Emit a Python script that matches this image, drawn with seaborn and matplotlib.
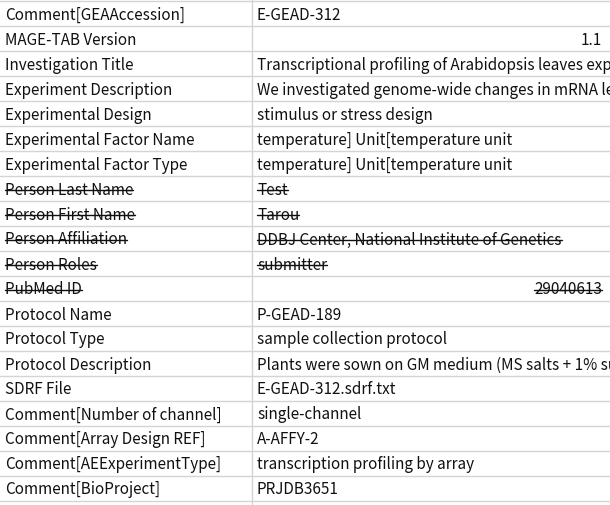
import matplotlib
matplotlib.use("Agg")
import matplotlib.pyplot as plt
import seaborn as sns

sns.set_theme(style="white")
plt.rcParams['font.family'] = ['Noto Sans CJK JP', 'DejaVu Sans']

keys = ["Comment[GEAAccession]", "MAGE-TAB Version", "Investigation Title", "Experiment Description",
        "Experimental Design", "Experimental Factor Name", "Experimental Factor Type",
        "Person Last Name", "Person First Name", "Person Affiliation", "Person Roles", "PubMed ID",
        "Protocol Name", "Protocol Type", "Protocol Description", "SDRF File",
        "Comment[Number of channel]", "Comment[Array Design REF]", "Comment[AEExperimentType]",
        "Comment[BioProject]"]
values = ["E-GEAD-312", "1.1", "Transcriptional profiling of Arabidopsis leaves exposed",
          "We investigated genome-wide changes in mRNA levels",
          "stimulus or stress design", "temperature] Unit[temperature unit",
          "temperature] Unit[temperature unit", "Test", "Tarou",
          "DDBJ Center, National Institute of Genetics", "submitter", "29040613",
          "P-GEAD-189", "sample collection protocol",
          "Plants were sown on GM medium (MS salts + 1% sucrose)",
          "E-GEAD-312.sdrf.txt", "single-channel", "A-AFFY-2",
          "transcription profiling by array", "PRJDB3651"]
struck = ["Person Last Name", "Person First Name", "Person Affiliation", "Person Roles", "PubMed ID"]

W, H = 610, 506
fig = plt.figure(figsize=(6.10, 5.06), dpi=100)
ax = fig.add_axes([0, 0, 1, 1])
ax.set_xlim(0, W); ax.set_ylim(H, 0); ax.axis('off')
top, rh, split = 2, 25, 252
grid = '#d4d4d4'
for i in range(len(keys) + 1):
    ax.axhline(top + i * rh, color=grid, lw=1)
ax.axvline(split, color=grid, lw=1)

strike_texts = []
for i, (k, v) in enumerate(zip(keys, values)):
    y = top + i * rh + rh / 2 + 0.5
    t1 = ax.text(5, y, k, va='center', ha='left', fontsize=11, color='#111111')
    num = v.replace('.', '').isdigit()
    if num:
        t2 = ax.text(W - 8, y, v, va='center', ha='right', fontsize=11, color='#111111')
    else:
        t2 = ax.text(split + 5, y, v, va='center', ha='left', fontsize=11, color='#111111', clip_on=True)
    if k in struck:
        strike_texts += [(t1, y), (t2, y)]

fig.canvas.draw()
r = fig.canvas.get_renderer()
inv = ax.transData.inverted()
for t, y in strike_texts:
    bb = t.get_window_extent(r)
    (x0, _), (x1, _) = inv.transform([(bb.x0, bb.y0), (bb.x1, bb.y1)])
    ax.plot([x0, x1], [y + 0.5, y + 0.5], color='#111111', lw=1)

fig.savefig("out.png", dpi=100)
